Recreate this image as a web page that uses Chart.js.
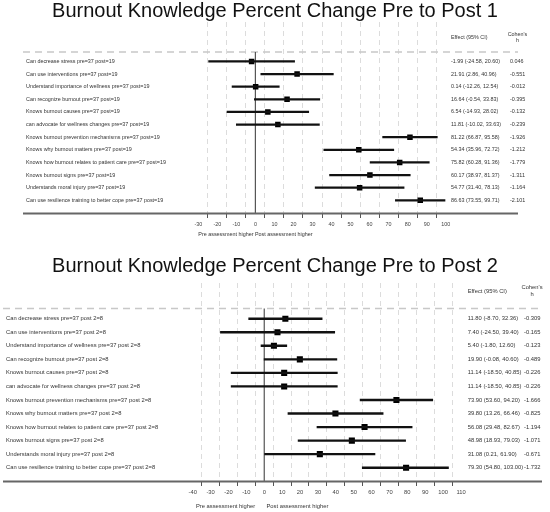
<!DOCTYPE html>
<html><head><meta charset="utf-8">
<script src="https://cdn.jsdelivr.net/npm/chart.js@4.4.1/dist/chart.umd.min.js"></script>
<style>
html,body{margin:0;padding:0;background:#fff;overflow:hidden;}
#w1{position:absolute;left:0;top:0;width:550px;height:245px;}
#w2{position:absolute;left:0;top:245px;width:550px;height:267px;}
</style></head><body>
<div id="w1"><canvas id="c1"></canvas></div>
<div id="w2"><canvas id="c2"></canvas></div>
<script>
// ---------- DATA ----------
const title1 = 'Burnout Knowledge Percent Change Pre to Post 1';
const categories1 = [
  'Can decrease stress pre=37 post=19',
  'Can use interventions pre=37 post=19',
  'Understand importance of wellness pre=37 post=19',
  'Can recognize burnout pre=37 post=19',
  'Knows burnout causes pre=37 post=19',
  'can advocate for wellness changes pre=37 post=19',
  'Knows burnout prevention mechanisms pre=37 post=19',
  'Knows why burnout matters pre=37 post=19',
  'Knows how burnout relates to patient care pre=37 post=19',
  'Knows burnout signs pre=37 post=19',
  'Understands moral injury pre=37 post=19',
  'Can use resilience training to better cope pre=37 post=19'
];
const estimate1 = [-1.99, 21.91, 0.14, 16.64, 6.54, 11.81, 81.22, 54.34, 75.82, 60.17, 54.77, 86.63];
const lower1    = [-24.58, 2.86, -12.26, -0.54, -14.93, -10.02, 66.87, 35.96, 60.28, 38.97, 31.40, 73.55];
const upper1    = [20.60, 40.96, 12.54, 33.83, 28.02, 33.63, 95.58, 72.72, 91.36, 81.37, 78.13, 99.71];
const cohensH1  = ['0.046', '-0.551', '-0.012', '-0.395', '-0.132', '-0.239', '-1.926', '-1.212', '-1.779', '-1.311', '-1.164', '-2.101'];
const xRange1 = [-30, 100];
const xTitle1 = 'Pre assessment higher Post assessment higher';

const title2 = 'Burnout Knowledge Percent Change Pre to Post 2';
const categories2 = [
  'Can decrease stress pre=37 post 2=8',
  'Can use interventions pre=37 post 2=8',
  'Understand importance of wellness pre=37 post 2=8',
  'Can recognize burnout pre=37 post 2=8',
  'Knows burnout causes pre=37 post 2=8',
  'can advocate for wellness changes pre=37 post 2=8',
  'Knows burnout prevention mechanisms pre=37 post 2=8',
  'Knows why burnout matters pre=37 post 2=8',
  'Knows how burnout relates to patient care pre=37 post 2=8',
  'Knows burnout signs pre=37 post 2=8',
  'Understands moral injury pre=37 post 2=8',
  'Can use resilience training to better cope pre=37 post 2=8'
];
const estimate2 = [11.80, 7.40, 5.40, 19.90, 11.14, 11.14, 73.90, 39.80, 56.08, 48.98, 31.08, 79.30];
const lower2    = [-8.70, -24.50, -1.80, -0.08, -18.50, -18.50, 53.60, 13.26, 29.48, 18.93, 0.21, 54.80];
const upper2    = [32.36, 39.40, 12.60, 40.60, 40.85, 40.85, 94.20, 66.46, 82.67, 79.03, 61.90, 103.00];
const cohensH2  = ['-0.309', '-0.165', '-0.123', '-0.489', '-0.226', '-0.226', '-1.666', '-0.825', '-1.194', '-1.071', '-0.671', '-1.732'];
const xRange2 = [-40, 110];
const xTitle2 = '  Pre assessment higher       Post assessment higher';

// ---------- RENDERING ----------
const FAMILY = '"Liberation Sans", Arial, Helvetica, sans-serif';
Chart.defaults.font.family = FAMILY;
Chart.defaults.color = '#333';

const fmt = v => v.toFixed(2);

const forestDecor = {
  id: 'forestDecor',
  beforeDatasetsDraw(chart, args, o) {
    const {ctx, chartArea: ca, scales} = chart;
    const x = scales.x, y = scales.y, y2 = scales.y2, y3 = scales.y3;
    ctx.save();
    const yh = y.getPixelForValue(0.25);
    // dashed header separator
    ctx.strokeStyle = '#c8c8c8'; ctx.lineWidth = 1.5; ctx.setLineDash([7, 5]);
    ctx.beginPath(); ctx.moveTo(o.lineLeft, yh); ctx.lineTo(o.lineRight, yh); ctx.stroke();
    // zero reference line
    ctx.setLineDash([]);
    ctx.strokeStyle = '#555'; ctx.lineWidth = 1.2;
    const x0 = x.getPixelForValue(0);
    ctx.beginPath(); ctx.moveTo(x0, yh); ctx.lineTo(x0, ca.bottom); ctx.stroke();
    // long axis line
    ctx.strokeStyle = '#666'; ctx.lineWidth = 2;
    ctx.beginPath(); ctx.moveTo(o.lineLeft, ca.bottom + 0.5); ctx.lineTo(o.lineRight, ca.bottom + 0.5); ctx.stroke();
    // column headers
    ctx.fillStyle = '#333';
    ctx.font = o.fs + 'px ' + FAMILY;
    ctx.textBaseline = 'middle'; ctx.textAlign = 'left';
    ctx.fillText('Effect (95% CI)', y2.left + o.y2pad, yh - o.effOff);
    ctx.textAlign = 'center';
    ctx.fillText("Cohen's", y3.left + o.hOff, yh - o.cohOff1);
    ctx.fillText('h', y3.left + o.hOff, yh - o.cohOff2);
    ctx.restore();
  }
};

function makeForest(id, d, L) {
  const rowTicks = axis => { axis.ticks = d.cats.map((c, i) => ({value: i + 1})); };
  const yCommon = {
    type: 'linear', reverse: true, min: L.yMin, max: L.yMax, offset: false,
    grid: {display: false, drawTicks: false}, border: {display: false},
    afterBuildTicks: rowTicks
  };
  new Chart(document.getElementById(id), {
    type: 'bar',
    data: {
      datasets: [
        {
          type: 'bar', indexAxis: 'y', xAxisID: 'x', yAxisID: 'y',
          data: d.cats.map((c, i) => ({x: [d.lo[i], d.hi[i]], y: i + 1})),
          backgroundColor: '#111', borderWidth: 0, barThickness: L.ciW, grouped: false
        },
        {
          type: 'scatter', xAxisID: 'x', yAxisID: 'y',
          data: d.cats.map((c, i) => ({x: d.est[i], y: i + 1})),
          pointStyle: 'rect', pointRadius: L.ptR, backgroundColor: '#000', borderWidth: 0, pointHoverRadius: L.ptR
        }
      ]
    },
    options: {
      responsive: true, maintainAspectRatio: false, animation: false,
      events: [],
      layout: {padding: 0},
      plugins: {
        legend: {display: false}, tooltip: {enabled: false},
        title: {
          display: true, text: d.title, color: '#111',
          font: {size: L.titleSize, weight: 'normal', lineHeight: 1, family: FAMILY},
          padding: {top: L.titlePt, bottom: L.titlePb}
        },
        forestDecor: L.decor
      },
      scales: {
        x: {
          type: 'linear', position: 'bottom', min: d.xr[0], max: d.xr[1], offset: false,
          ticks: {stepSize: 10, color: '#444', font: {size: L.fs}, padding: L.tickPad, maxRotation: 0, autoSkip: false},
          grid: {
            color: '#dcdcdc', lineWidth: 1, drawTicks: true, tickLength: 5, tickColor: '#555', tickWidth: 1
          },
          border: {display: false, dash: [5, 4]},
          title: {display: true, text: d.xTitle, align: 'start', color: '#333', font: {size: L.fs}, padding: {top: 0, bottom: L.xTitlePb}},
          afterFit: s => { s.width = s.width; s.height = L.xH; }
        },
        spacer: {
          type: 'linear', position: 'left', weight: 10, display: true, min: 0, max: 1,
          grid: {display: false, drawTicks: false}, border: {display: false}, ticks: {display: false},
          afterFit: s => { s.width = L.padL; }
        },
        y: Object.assign({}, yCommon, {
          position: 'left', weight: 0,
          ticks: {crossAlign: 'far', padding: 0, autoSkip: false, color: '#333', font: {size: L.fs},
                  callback: v => d.cats[v - 1]},
          afterFit: s => { s.width = L.yW; }
        }),
        y2: Object.assign({}, yCommon, {
          position: 'right', weight: 0,
          ticks: {crossAlign: 'near', padding: L.decor.y2pad, autoSkip: false, color: '#333', font: {size: L.fs},
                  callback: v => fmt(d.est[v - 1]) + ' (' + fmt(d.lo[v - 1]) + ', ' + fmt(d.hi[v - 1]) + ')'},
          afterFit: s => { s.width = L.y2W; }
        }),
        y3: Object.assign({}, yCommon, {
          position: 'right', weight: 1,
          ticks: {crossAlign: 'near', padding: 0, autoSkip: false, color: '#333', font: {size: L.fs},
                  callback: v => d.h[v - 1]},
          afterFit: s => { s.width = L.y3W; }
        })
      }
    },
    plugins: [forestDecor]
  });
}

makeForest('c1',
  {title: title1, cats: categories1, est: estimate1, lo: lower1, hi: upper1, h: cohensH1, xr: xRange1, xTitle: xTitle1},
  {padL: 26, yW: 172.3, y2W: 64.3, y3W: 40, yMin: -2.13, yMax: 13.007, xH: 32, fs: 5.4,
   titleSize: 20, titlePt: 1, titlePb: 1, tickPad: 2.8, xTitlePb: 6.8, ciW: 1.6, ptR: 3.9,
   decor: {lineLeft: 23, lineRight: 518, fs: 5.4, y2pad: 5.3, hOff: 7.5, effOff: 15, cohOff1: 18, cohOff2: 11.5}});

makeForest('c2',
  {title: title2, cats: categories2, est: estimate2, lo: lower2, hi: upper2, h: cohensH2, xr: xRange2, xTitle: xTitle2},
  {padL: 6, yW: 186.7, y2W: 63, y3W: 26, yMin: -1.636, yMax: 12.982, xH: 31, fs: 5.8,
   titleSize: 20, titlePt: 11, titlePb: 7, tickPad: 3.2, xTitlePb: 2.5, ciW: 1.7, ptR: 4.3,
   decor: {lineLeft: 3, lineRight: 542, fs: 5.8, y2pad: 6.7, hOff: 8, effOff: 17.5, cohOff1: 21.5, cohOff2: 14.5}});
</script>
</body></html>
